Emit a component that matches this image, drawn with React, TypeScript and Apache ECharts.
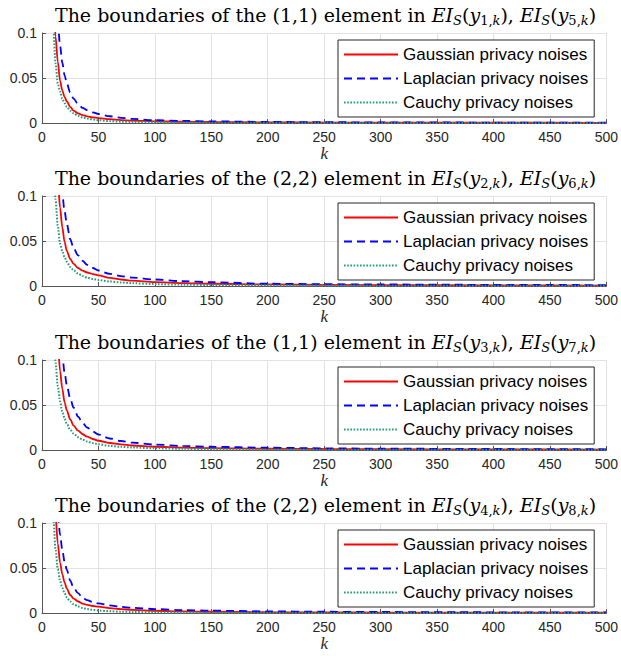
import React, { useEffect, useRef } from "react";
import * as echarts from "echarts";

const K = [8, 10, 12, 14, 16, 18, 20, 22, 25, 28, 32, 36, 40, 45, 50, 60, 70, 80, 100, 125, 150, 200, 250, 300, 400, 500];

const seriesNames = ["Gaussian privacy noises", "Laplacian privacy noises", "Cauchy privacy noises"];

// Plot 1: (1,1) element, y1 / y5
const gauss1 = [0.25, 0.145, 0.096, 0.068, 0.047, 0.036, 0.029, 0.024, 0.0178, 0.0137, 0.0108, 0.0088, 0.0074, 0.0063, 0.0055, 0.0042, 0.0033, 0.0027, 0.0019, 0.0014, 0.0011, 0.0007, 0.0005, 0.0004, 0.0003, 0.0002];
const laplace1 = [0.33, 0.22, 0.155, 0.112, 0.086, 0.067, 0.053, 0.044, 0.034, 0.027, 0.021, 0.0168, 0.0142, 0.0118, 0.01, 0.0075, 0.0058, 0.0046, 0.0031, 0.0023, 0.0018, 0.0012, 0.0009, 0.0007, 0.0005, 0.0004];
const cauchy1 = [0.17, 0.106, 0.066, 0.044, 0.035, 0.027, 0.022, 0.018, 0.0137, 0.0107, 0.008, 0.0062, 0.005, 0.0039, 0.0031, 0.0021, 0.0015, 0.0012, 0.0008, 0.0005, 0.0004, 0.0002, 0.00015, 0.0001, 0.00006, 0.00004];

// Plot 2: (2,2) element, y2 / y6
const gauss2 = [0.4, 0.24, 0.16, 0.118, 0.087, 0.065, 0.049, 0.039, 0.03, 0.0245, 0.02, 0.017, 0.015, 0.0133, 0.0118, 0.009, 0.0072, 0.006, 0.0043, 0.0032, 0.0025, 0.0017, 0.0013, 0.001, 0.0007, 0.0005];
const laplace2 = [0.5, 0.32, 0.22, 0.16, 0.125, 0.102, 0.083, 0.069, 0.052, 0.042, 0.034, 0.028, 0.0235, 0.02, 0.0172, 0.0135, 0.011, 0.0093, 0.0072, 0.0053, 0.0042, 0.0025, 0.002, 0.0017, 0.0013, 0.001];
const cauchy2 = [0.25, 0.145, 0.096, 0.067, 0.047, 0.039, 0.032, 0.027, 0.021, 0.0175, 0.0138, 0.011, 0.0093, 0.0078, 0.0067, 0.005, 0.0039, 0.0031, 0.0021, 0.0015, 0.0011, 0.0007, 0.0005, 0.0004, 0.0003, 0.0002];

// Plot 3: (1,1) element, y3 / y7
const gauss3 = [0.4, 0.24, 0.16, 0.12, 0.088, 0.068, 0.053, 0.044, 0.034, 0.027, 0.0215, 0.0175, 0.0148, 0.0122, 0.0103, 0.0078, 0.0062, 0.005, 0.0036, 0.0027, 0.0021, 0.0014, 0.0011, 0.0009, 0.0006, 0.0005];
const laplace3 = [0.5, 0.33, 0.23, 0.17, 0.13, 0.105, 0.086, 0.072, 0.057, 0.047, 0.037, 0.03, 0.025, 0.0205, 0.0172, 0.0128, 0.01, 0.0082, 0.006, 0.0045, 0.0036, 0.0025, 0.0019, 0.0015, 0.0011, 0.0008];
const cauchy3 = [0.25, 0.145, 0.097, 0.071, 0.054, 0.043, 0.035, 0.029, 0.0225, 0.0182, 0.0142, 0.0115, 0.0095, 0.0077, 0.0064, 0.0046, 0.0035, 0.0028, 0.0019, 0.0013, 0.001, 0.0006, 0.0004, 0.0003, 0.0002, 0.00015];

// Plot 4: (2,2) element, y4 / y8
const gauss4 = [0.28, 0.165, 0.108, 0.077, 0.056, 0.043, 0.034, 0.027, 0.02, 0.016, 0.0128, 0.0105, 0.009, 0.0078, 0.007, 0.0054, 0.0043, 0.0035, 0.0025, 0.0018, 0.0014, 0.0009, 0.0007, 0.0005, 0.0004, 0.0003];
const laplace4 = [0.34, 0.22, 0.155, 0.112, 0.087, 0.07, 0.057, 0.048, 0.036, 0.028, 0.022, 0.017, 0.0142, 0.0122, 0.0107, 0.0085, 0.0069, 0.0058, 0.0044, 0.0033, 0.0026, 0.0018, 0.0014, 0.0011, 0.0008, 0.0006];
const cauchy4 = [0.18, 0.106, 0.071, 0.049, 0.036, 0.028, 0.022, 0.0173, 0.0128, 0.0098, 0.0072, 0.0056, 0.0045, 0.0035, 0.0028, 0.0019, 0.0014, 0.0011, 0.0007, 0.0005, 0.0003, 0.0002, 0.00013, 0.0001, 0.00006, 0.00004];

const panelElements = ["(1,1)", "(2,2)", "(1,1)", "(2,2)"];
const panelSubsA = ["1", "2", "3", "4"];
const panelSubsB = ["5", "6", "7", "8"];
const panelData = [
  [gauss1, laplace1, cauchy1],
  [gauss2, laplace2, cauchy2],
  [gauss3, laplace3, cauchy3],
  [gauss4, laplace4, cauchy4],
];

const xTicks = { min: 0, max: 500, interval: 50 };
const yTicks = { min: 0, max: 0.1, interval: 0.05 };

const gridTops = [33, 196, 360, 523];
const GRID_LEFT = 42;
const GRID_WIDTH = 565;
const GRID_HEIGHT = 90;

const colors = ["#ff0000", "#0000ff", "#1f9e7a"];
const lineTypes: any[] = ["solid", [8, 5], [1.6, 1.6]];
const lineWidths = [1.8, 1.8, 2];

function buildOption() {
  const grid: any[] = [];
  const xAxis: any[] = [];
  const yAxis: any[] = [];
  const series: any[] = [];
  const legend: any[] = [];
  const graphic: any[] = [];

  const sans = "Liberation Sans, Arial, sans-serif";
  const serif = "DejaVu Serif, serif";

  gridTops.forEach((top, i) => {
    grid.push({ left: GRID_LEFT, top, width: GRID_WIDTH, height: GRID_HEIGHT, containLabel: false });
    xAxis.push({
      type: "value",
      gridIndex: i,
      min: xTicks.min,
      max: xTicks.max,
      interval: xTicks.interval,
      name: "k",
      nameLocation: "middle",
      nameGap: 22,
      nameTextStyle: { fontFamily: "Liberation Serif, serif", fontStyle: "italic", fontSize: 17, color: "#262626" },
      axisLine: { show: true, onZero: false, lineStyle: { color: "#555", width: 1 } },
      axisTick: { show: true, inside: true, length: 4, lineStyle: { color: "#555" } },
      axisLabel: { margin: 7, fontFamily: sans, fontSize: 14, color: "#262626" },
      splitLine: { show: true, lineStyle: { color: "#e2e2e2", width: 1 } },
    });
    yAxis.push({
      type: "value",
      gridIndex: i,
      min: yTicks.min,
      max: yTicks.max,
      interval: yTicks.interval,
      axisLine: { show: true, onZero: false, lineStyle: { color: "#555", width: 1 } },
      axisTick: { show: true, inside: true, length: 4, lineStyle: { color: "#555" } },
      axisLabel: { margin: 5, fontFamily: sans, fontSize: 14, color: "#262626" },
      splitLine: { show: true, lineStyle: { color: "#e2e2e2", width: 1 } },
    });
    panelData[i].forEach((vals, s) => {
      series.push({
        type: "line",
        name: seriesNames[s],
        xAxisIndex: i,
        yAxisIndex: i,
        data: K.map((k, j) => [k, vals[j]]),
        symbol: "none",
        smooth: 0.3,
        smoothMonotone: "x",
        clip: true,
        lineStyle: { color: colors[s], type: lineTypes[s], width: lineWidths[s] },
        itemStyle: { color: colors[s] },
        z: 2 + s,
      });
    });
    legend.push({
      orient: "vertical",
      left: 338,
      top: top + 7,
      data: seriesNames,
      itemWidth: 54,
      itemHeight: 16,
      itemGap: 7,
      padding: [6, 6, 6, 5],
      borderColor: "#262626",
      borderWidth: 1,
      backgroundColor: "#ffffff",
      selectedMode: false,
      itemStyle: { opacity: 0 },
      textStyle: { fontFamily: sans, fontSize: 17, color: "#000" },
    });
    const text =
      `{n|The boundaries of the ${panelElements[i]} element in }` +
      `{i|EI}{si|S}{n|(}{i|y}{s|${panelSubsA[i]},}{si|k}{n|), }` +
      `{i|EI}{si|S}{n|(}{i|y}{s|${panelSubsB[i]},}{si|k}{n|)}`;
    graphic.push({
      type: "text",
      x: GRID_LEFT + GRID_WIDTH / 2 + 1,
      y: top - 18,
      style: {
        text,
        align: "center",
        verticalAlign: "middle",
        fill: "#000",
        rich: {
          n: { fontFamily: serif, fontSize: 19, lineHeight: 24, verticalAlign: "middle", fill: "#000", color: "#000" },
          i: { fontFamily: serif, fontSize: 19, fontStyle: "italic", lineHeight: 24, verticalAlign: "middle", fill: "#000", color: "#000" },
          s: { fontFamily: serif, fontSize: 13, lineHeight: 14, verticalAlign: "bottom", fill: "#000", color: "#000" },
          si: { fontFamily: serif, fontSize: 13, fontStyle: "italic", lineHeight: 14, verticalAlign: "bottom", fill: "#000", color: "#000" },
        },
      },
    });
  });

  return {
    animation: false,
    backgroundColor: "#ffffff",
    grid,
    xAxis,
    yAxis,
    series,
    legend,
    graphic,
  };
}

export default function App() {
  const ref = useRef<HTMLDivElement>(null);
  useEffect(() => {
    if (!ref.current) return;
    const chart = echarts.init(ref.current, undefined, { renderer: "svg" });
    chart.setOption(buildOption() as any);
    return () => chart.dispose();
  }, []);
  return (
    <div
      ref={ref}
      style={{ position: "absolute", left: 0, top: 0, width: 621, height: 656, background: "#fff" }}
    />
  );
}
